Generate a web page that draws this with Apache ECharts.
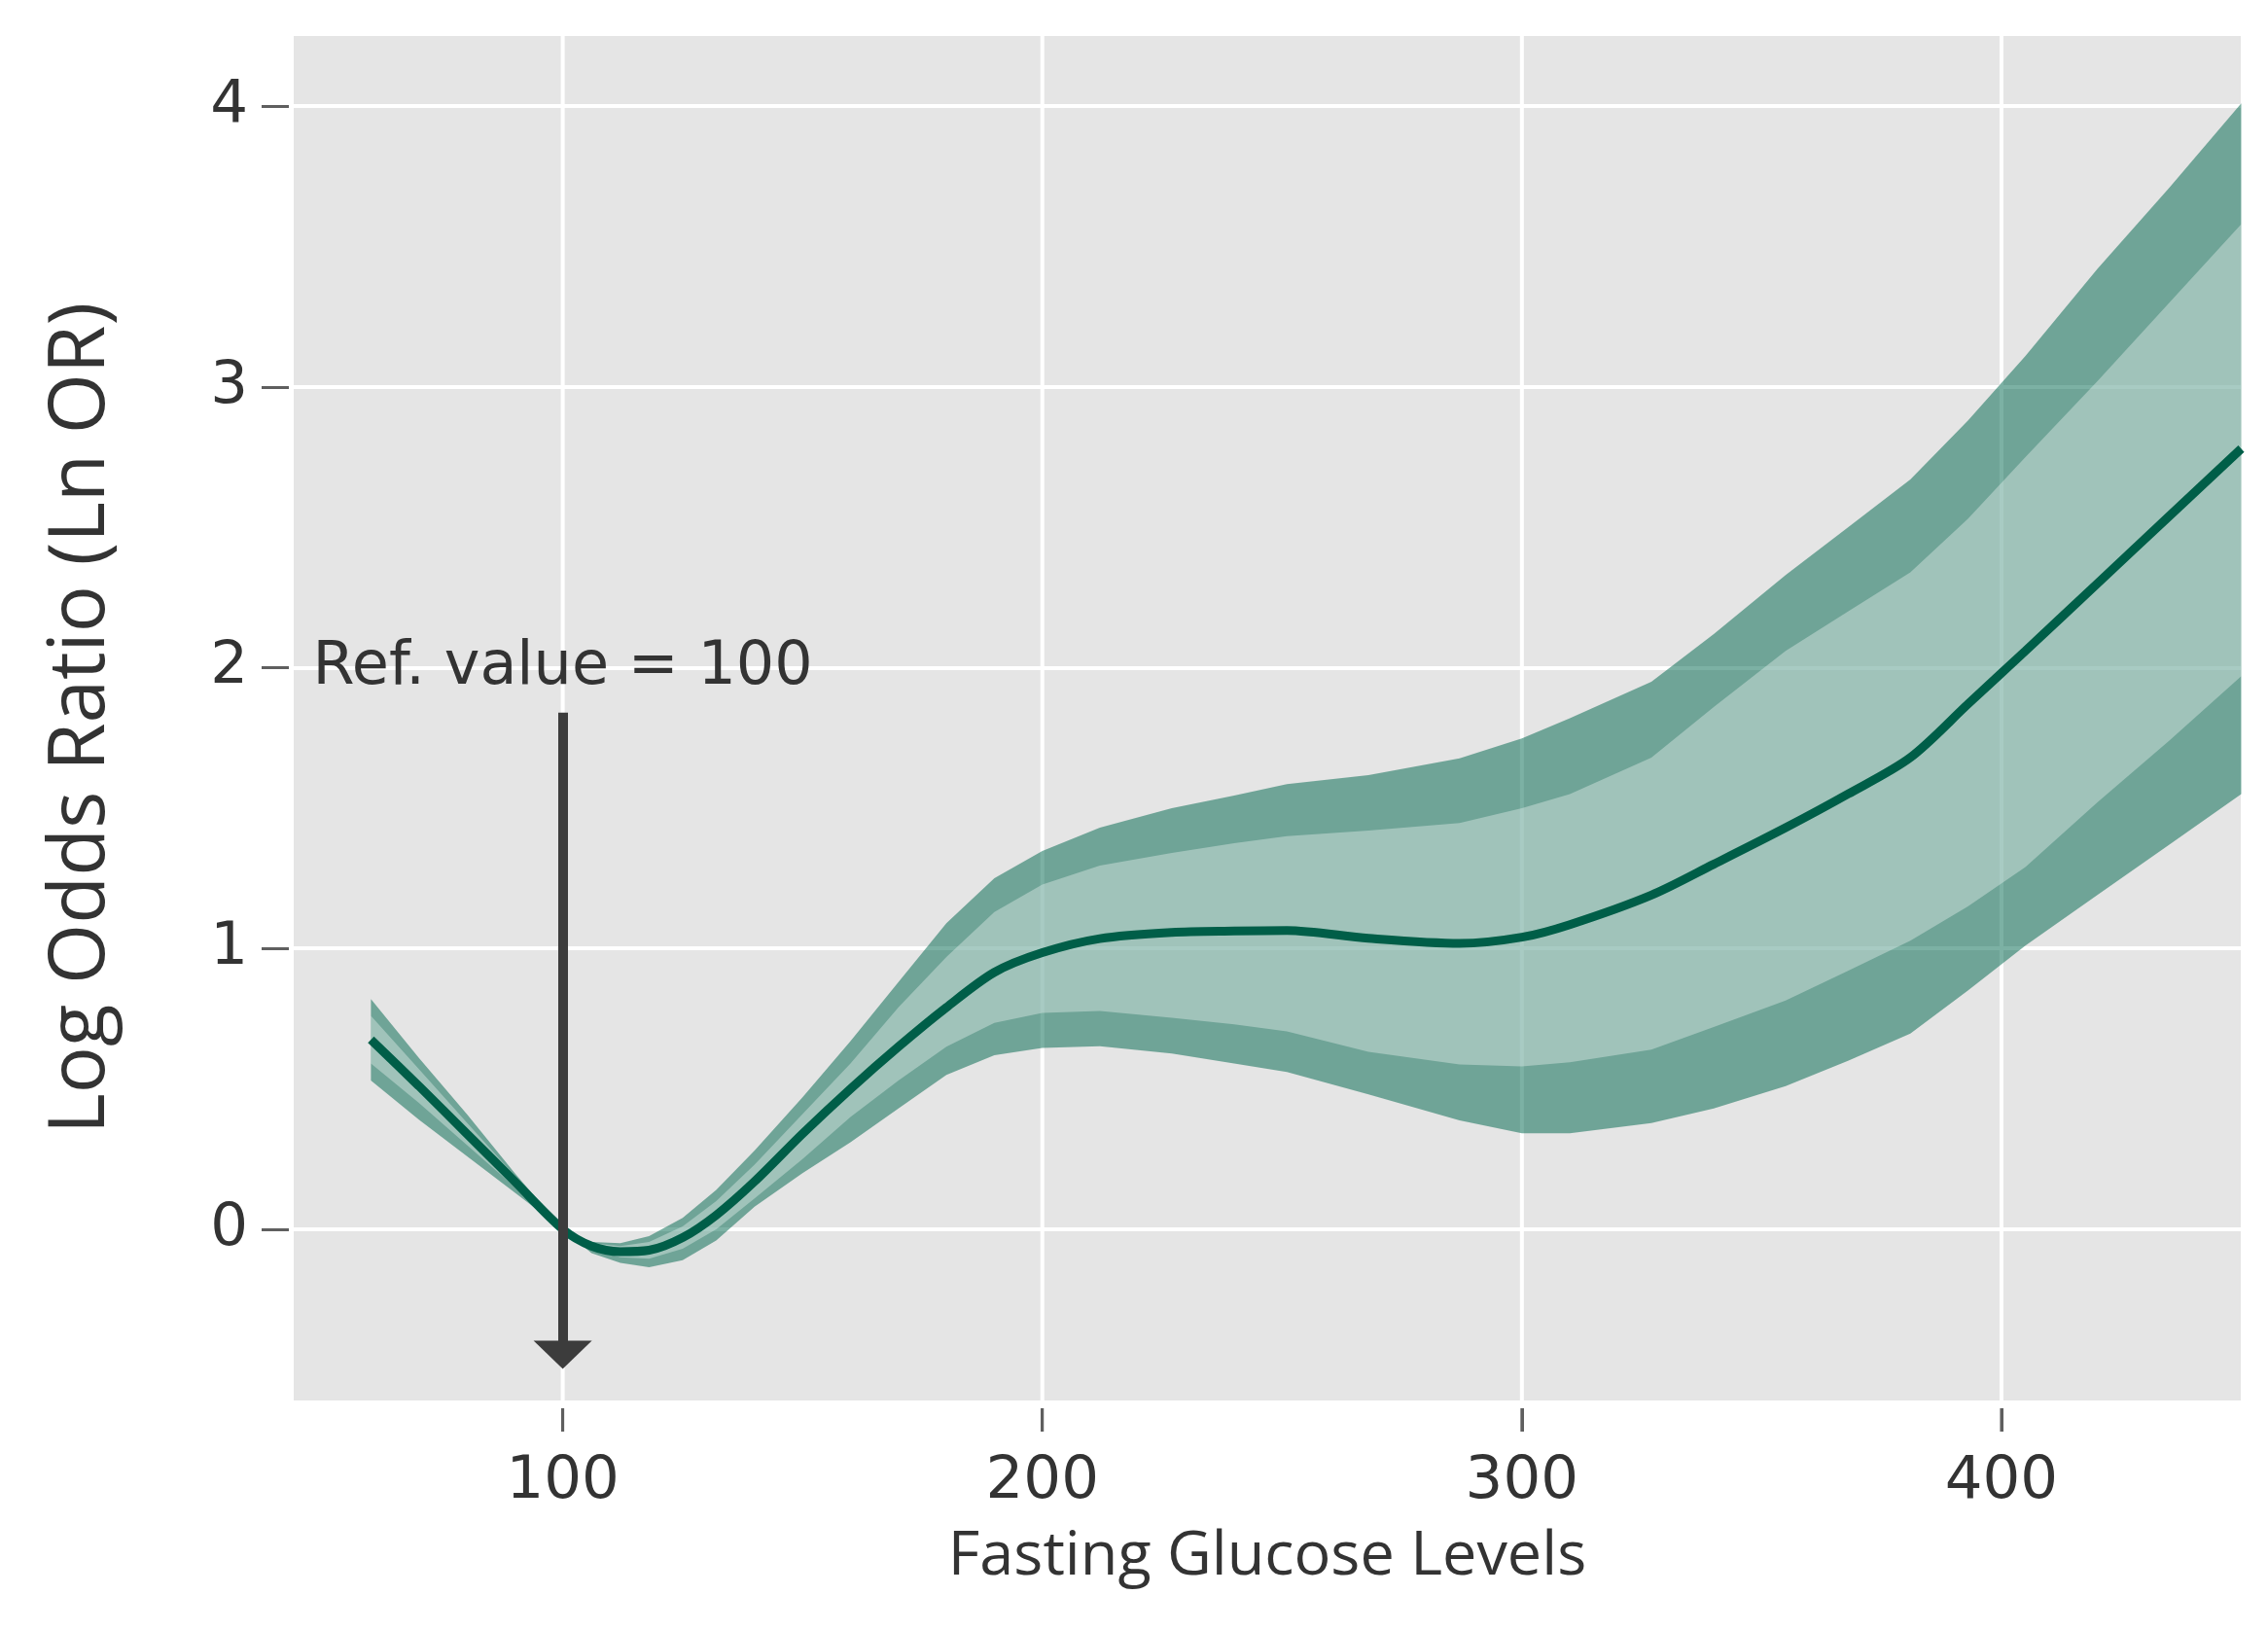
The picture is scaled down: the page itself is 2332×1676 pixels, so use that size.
<!DOCTYPE html>
<html>
<head>
<meta charset="utf-8">
<script src="https://cdn.jsdelivr.net/npm/echarts@6/dist/echarts.min.js"></script>
<style>
html,body{margin:0;padding:0;background:#fff;}
#chart{width:2332px;height:1676px;}
</style>
</head>
<body>
<div id="chart"></div>
<script>
// Fasting glucose level (x)
const xVals = [60,70,80,90,100,106,112,118,125,132,140,150,160,170,180,190,200,212,227,240,251,268,287,300,310,327,340,355,368,381,393,405,420,435,450];
// Log odds ratio estimate
const center = [0.675,0.51,0.34,0.17,0.0,-0.06,-0.08,-0.075,-0.03,0.05,0.17,0.34,0.50,0.65,0.79,0.915,0.985,1.035,1.057,1.062,1.064,1.036,1.018,1.04,1.085,1.19,1.30,1.43,1.55,1.68,1.87,2.06,2.30,2.54,2.78];
// Outer confidence band
const upperOuter = [0.82,0.61,0.41,0.20,0.0,-0.045,-0.05,-0.025,0.04,0.14,0.28,0.47,0.67,0.88,1.09,1.25,1.347,1.43,1.50,1.545,1.585,1.617,1.677,1.748,1.82,1.95,2.12,2.33,2.50,2.67,2.88,3.11,3.42,3.71,4.01];
const lowerOuter = [0.53,0.39,0.26,0.13,0.0,-0.085,-0.12,-0.135,-0.11,-0.04,0.08,0.20,0.31,0.43,0.55,0.62,0.646,0.652,0.626,0.59,0.56,0.48,0.388,0.342,0.342,0.378,0.43,0.51,0.60,0.697,0.85,1.01,1.19,1.37,1.55];
// Inner confidence band
const upperInner = [0.76,0.57,0.38,0.19,0.0,-0.05,-0.06,-0.045,0.01,0.10,0.23,0.41,0.59,0.79,0.97,1.13,1.228,1.295,1.34,1.375,1.40,1.42,1.447,1.50,1.55,1.68,1.86,2.06,2.20,2.34,2.53,2.75,3.02,3.30,3.58];
const lowerInner = [0.59,0.45,0.30,0.15,0.0,-0.07,-0.10,-0.105,-0.07,0.0,0.11,0.25,0.40,0.53,0.65,0.735,0.77,0.777,0.753,0.73,0.705,0.632,0.587,0.58,0.595,0.64,0.72,0.815,0.92,1.028,1.15,1.29,1.52,1.74,1.97];
// Axis ranges and ticks
const xMin = 43.9, xMax = 449.9;
const yMin = -0.61, yMax = 4.25;
const xTicks = [100,200,300,400];
const yTicks = [0,1,2,3,4];
// Reference annotation
const refX = 100;
const refText = 'Ref. value = 100';
const refTextY = 2.0;
const arrowFromY = 1.84;
const arrowHeadY = -0.447;

const chart = echarts.init(document.getElementById('chart'), null, {renderer:'canvas'});

function band(lo, hi, fill) {
  return function(params, api) {
    if (params.dataIndex !== 0) return null;
    const pts = [];
    for (let i = 0; i < xVals.length; i++) pts.push(api.coord([xVals[i], hi[i]]));
    for (let i = xVals.length - 1; i >= 0; i--) pts.push(api.coord([xVals[i], lo[i]]));
    return {type:'polygon', shape:{points:pts}, style:{fill:fill}};
  };
}

const tickFont = 'DejaVu Sans';
const txt = '#333333';

const option = {
  animation: false,
  grid: {left:302, right:28, top:37, bottom:236, show:true, backgroundColor:'#e5e5e5', borderWidth:0},
  xAxis: {
    type:'value', min:xMin, max:xMax, offset:8, position:'bottom',
    name:'Fasting Glucose Levels', nameLocation:'middle', nameGap:122,
    nameTextStyle:{fontFamily:'Open Sans', fontSize:63, color:txt},
    axisLine:{show:false, onZero:false},
    axisTick:{show:true, inside:false, length:24, customValues:xTicks, lineStyle:{color:'#5f5f5f', width:3}},
    axisLabel:{customValues:xTicks, fontFamily:tickFont, fontSize:61, color:txt, margin:46},
    splitLine:{show:false}
  },
  yAxis: {
    type:'value', min:yMin, max:yMax, offset:5, position:'left',
    name:'Log Odds Ratio (Ln OR)', nameLocation:'middle', nameGap:173, nameRotate:90,
    nameTextStyle:{fontFamily:'Open Sans', fontSize:80, color:txt},
    axisLine:{show:false, onZero:false},
    axisTick:{show:true, inside:false, length:28, customValues:yTicks, lineStyle:{color:'#5f5f5f', width:3}},
    axisLabel:{customValues:yTicks, fontFamily:tickFont, fontSize:61, color:txt, margin:42},
    splitLine:{show:true, lineStyle:{color:'#ffffff', width:4}}
  },
  series: [
    {
      // vertical grid lines at x ticks
      type:'custom', z:1, silent:true,
      data: xTicks.map(v => [v, yMin]),
      encode:{x:0, y:1},
      renderItem: function(params, api) {
        const a = api.coord([api.value(0), yMin]);
        const b = api.coord([api.value(0), yMax]);
        return {type:'line', shape:{x1:a[0], y1:a[1], x2:b[0], y2:b[1]}, style:{stroke:'#ffffff', lineWidth:4}};
      }
    },
    {type:'custom', z:2, renderItem: band(lowerOuter, upperOuter, 'rgba(0,103,78,0.515)'), data:[[xVals[0], center[0]]], silent:true},
    {type:'custom', z:3, renderItem: band(lowerInner, upperInner, 'rgba(255,255,255,0.34)'), data:[[xVals[0], center[0]]], silent:true},
    {
      // x tick marks below the plot
      type:'custom', z:20, silent:true, clip:false,
      data: xTicks.map(v => [v, yMin]),
      encode:{x:0, y:1},
      renderItem: function(params, api) {
        const p = api.coord([api.value(0), api.value(1)]);
        return {type:'line', shape:{x1:p[0], y1:p[1]+8, x2:p[0], y2:p[1]+32},
                style:{stroke:'#5f5f5f', lineWidth:3}};
      }
    },
    {
      type:'line', z:4, showSymbol:false, smooth:0.3,
      data: xVals.map((x,i)=>[x, center[i]]),
      lineStyle:{color:'#005e48', width:9},
      markLine:{
        silent:true, z:10, animation:false,
        symbol:['none','none'],
        label:{show:false},
        lineStyle:{color:'#3c3c3c', width:10, type:'solid', opacity:1},
        data:[[{coord:[refX, arrowFromY]},{coord:[refX, arrowHeadY]}]]
      },
      markPoint:{
        silent:true, z:11, animation:false,
        data:[
          {coord:[refX, refTextY], symbol:'circle', symbolSize:1, itemStyle:{color:'rgba(0,0,0,0)'},
           label:{show:true, position:'inside', formatter:refText, fontFamily:tickFont, fontSize:62, color:txt}},
          {coord:[refX, arrowHeadY], symbol:'triangle', symbolRotate:180, symbolSize:[60,29],
           itemStyle:{color:'#3c3c3c'}, label:{show:false}}
        ]
      }
    }
  ]
};
chart.setOption(option);
</script>
</body>
</html>
